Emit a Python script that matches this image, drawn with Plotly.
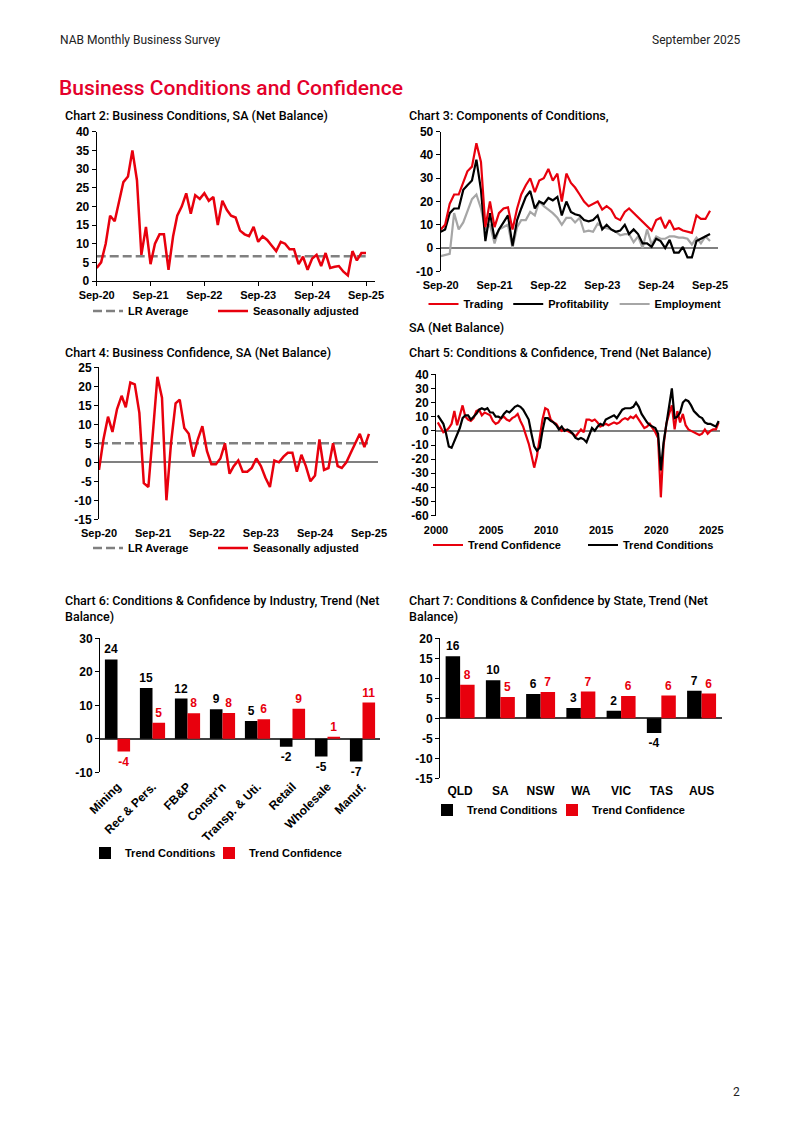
import pandas as pd
import plotly.graph_objects as go

W, H = 800, 1130
OFF = 8  # the page body adds an 8px margin around the figure
RED = '#e8000d'
BLACK = '#000000'
GREY = '#a6a6a6'
DGREY = '#808080'
AX_FONT = dict(family='Liberation Sans, Arial, sans-serif', size=11, color='black', weight='bold')
Y_FONT = dict(AX_FONT, size=12)
TITLE_FONT = dict(family='Roboto, Noto Sans, sans-serif', size=12.5, color='black', weight=500)

# Chart 2: Business Conditions, SA (monthly, Sep-20 .. Sep-25)
conditions_sa = [3.5, 5, 10, 17.5, 16, 22, 26.5, 28, 35, 27, 7, 14.5,
                 4.5, 10, 12.5, 12.5, 3, 12, 17.5, 20, 23.5, 18, 23, 22,
                 23.5, 21.5, 22.5, 15, 21.5, 19, 17.5, 17, 13.5, 12.5, 12, 14.5,
                 10.5, 12, 11, 9.5, 8, 10.5, 10, 8.5, 8.5, 4.5, 6.5, 3,
                 6, 7, 4, 7.5, 3.5, 3.8, 4, 2.5, 1.5, 8, 5.5, 7.5,
                 7.5]
conditions_lr_avg = 6.6

# Chart 3: Components of Conditions, SA
trading = [8, 10, 19, 23, 23, 28, 33, 35, 45, 37, 9, 20,
           9, 15, 17, 17.5, 8, 17, 23, 27, 30, 24, 29, 30,
           34, 29, 32, 20, 32, 28, 26, 23, 20, 18, 19, 20,
           16.5, 18, 16.5, 13, 12, 15.5, 17, 15, 13, 11, 9.5, 7.5,
           12, 13, 8.5, 12, 8, 8.5, 7.5, 7, 6.5, 14, 12.5, 12.5,
           16]
profitability = [7, 8, 15, 17, 17, 25, 27, 29, 38, 25, 3, 15,
                 4, 8, 11, 14, 1, 12, 17, 22, 24.5, 17, 20, 19,
                 21.5, 20.5, 22, 14, 20, 15.5, 14.5, 14, 12, 11.5, 12, 14,
                 8, 10, 8, 7, 7.5, 10, 6, 8, 6, 2, 2, 0.5,
                 4, 3, 0, 3.5, -2, -2, 0.5, -4, -4, 3, 4, 5,
                 6]
employment = [-3.5, -3, -2.5, 15, 8, 11, 16, 21, 23, 17, 8, 10,
              2, 8, 9, 10, 0, 9, 12, 12, 15.5, 14, 20, 18,
              16.5, 15, 13, 10, 13, 13, 11, 13, 7, 7.5, 7, 10.5,
              9, 8.5, 8, 7, 5.5, 6, 6, 2.5, 5, 0, 8, 1.5,
              5, 4, 4, 5, 5, 4.5, 4.5, 4, 1.5, 4.5, 2, 5,
              3]

# Chart 4: Business Confidence, SA
confidence_sa = [-2, 6, 12, 8, 14, 17.5, 14.5, 21, 20.5, 13, -5.5, -6.5,
                 8, 22.5, 17, -10, 5, 15.5, 16.5, 9, 7.5, 1.5, 6, 9.5,
                 3, -0.5, -0.5, 1, 5, -3, -1, 0.5, -2.5, -2.5, -1.5, 1,
                 -1, -4, -6.5, 0.5, 0, 1.5, 2.5, 2.5, -2.5, 2, -1, -5,
                 -3.5, 6, -2, -1.5, 5, -1, -1.5, 0, 2.5, 5, 7.5, 4,
                 7.5]
confidence_lr_avg = 5.0

# Chart 5: Conditions & Confidence, Trend (quarterly, Mar-00 .. Sep-25)
trend_conditions = [11, 8, 5, -2, -11, -12, -7, -3, 2, 9, 11, 11,
                    8, 10, 12, 15, 16, 15, 16, 13, 13, 10, 10, 9,
                    12, 14, 13, 15, 17, 18, 17, 15, 12, 8, -2, -11,
                    -14, -12, 0, 9, 9, 7, 6, 4, 1, 3, 0, 1,
                    0, -2, -5, -6, -5, -6, -8, -3, 2, 0, 3, 5,
                    4, 8, 9, 10, 11, 9, 12, 15, 16, 16, 16, 17,
                    20, 17, 12, 9, 6, 4, 3, 2, -2, -28, -8, 5,
                    18, 30, 9, 10, 13, 20, 22, 21, 18, 14, 12, 10,
                    9, 6, 5, 5, 4, 3, 7]
trend_confidence = [6, 2, -1, 0, 2, 5, 14, 4, 12, 18, 10, 8,
                    7, 9, 14, 15, 11, 13, 12, 11, 7, 5, 6, 9,
                    10, 8, 7, 9, 10, 12, 7, 3, -3, -9, -17, -26,
                    -18, -5, 8, 16, 15, 8, 6, 5, 2, 0, 1, 0,
                    -1, -2, -4, -1, 1, -1, 8, 8, 7, 8, 6, 3,
                    4, 5, 4, 5, 6, 5, 6, 8, 9, 8, 10, 9,
                    11, 8, 5, 2, 3, 5, 2, -1, -5, -47, -10, 5,
                    12, 18, 1, 14, 6, 12, 4, 1, 0, -1, -2, -3,
                    -2, 1, -2, 0, 1, 1, 6]

# Chart 6: by Industry, Trend
industries = ['Mining', 'Rec & Pers.', 'FB&P', "Constr'n", 'Transp. & Uti.',
              'Retail', 'Wholesale', 'Manuf.']
ind_conditions = [23.7, 15.2, 12, 8.8, 5.3, -2.4, -5.3, -6.8]
ind_confidence = [-3.8, 4.8, 7.6, 7.7, 5.8, 9, 0.6, 10.8]

# Chart 7: by State, Trend
states = ['QLD', 'SA', 'NSW', 'WA', 'VIC', 'TAS', 'AUS']
state_conditions = [15.5, 9.5, 6.1, 2.55, 1.9, -3.7, 6.9]
state_confidence = [8.4, 5.3, 6.6, 6.7, 5.6, 5.7, 6.2]

months = pd.date_range('2020-09-01', periods=len(conditions_sa), freq='MS')
quarters = pd.date_range('2000-03-01', periods=len(trend_conditions), freq='3MS')


def dom_x(left, right):
    return [(left - OFF) / W, (right - OFF) / W]


def dom_y(top, bottom):
    return [1 - (bottom - OFF) / H, 1 - (top - OFF) / H]


def zero_pos(top, bottom, lo, hi):
    # paper y of the value 0 on an axis spanning [lo, hi] between top and bottom pixels
    y0 = top + (hi / (hi - lo)) * (bottom - top)
    return 1 - (y0 - OFF) / H


def legend_at(x, cy, anchor='left'):
    return dict(orientation='h', x=(x - OFF) / W, y=1 - (cy - OFF) / H, xanchor=anchor,
                yanchor='middle', font=AX_FONT, bgcolor='rgba(0,0,0,0)', itemwidth=30,
                traceorder='normal', visible=True)


def y_axis(n, top, bottom, lo, hi, step, zero=None):
    ticks = list(range(lo, hi + 1, step))
    ax = dict(domain=dom_y(top, bottom), range=[lo, hi], anchor=f'x{n}',
              tickvals=ticks, ticktext=[str(t) for t in ticks],
              showline=True, linecolor='black', linewidth=1, ticks='outside', ticklen=4,
              tickcolor='black', showgrid=False, tickfont=Y_FONT, zeroline=False,
              automargin=False)
    if zero:
        ax.update(zeroline=True, zerolinecolor=zero, zerolinewidth=1.5)
    return ax


def x_date_axis(n, left, right, rng, line):
    return dict(domain=dom_x(left, right), range=rng, anchor=f'y{n}', type='date',
                tick0='2020-09-01', dtick='M12', tickformat='%b-%y',
                showline=line, linecolor='black', ticks='outside' if line else '',
                ticklen=4, tickcolor='black', showgrid=False, tickfont=AX_FONT, zeroline=False,
                ticklabelstandoff=0 if line else 6, automargin=False)


def zero_ticks(base, left, right, ypos, color, **kw):
    # tick marks sitting on the zero line of a chart (no labels)
    ax = dict(overlaying=base, domain=dom_x(left, right), anchor='free', position=ypos,
              showticklabels=False, ticks='outside', ticklen=4, tickcolor=color,
              showline=False, showgrid=False, zeroline=False, automargin=False)
    ax.update(kw)
    return ax


fig = go.Figure()

# Chart 2
fig.add_trace(go.Scatter(x=months, y=[conditions_lr_avg] * len(months), name='LR Average',
                         mode='lines', line=dict(color=DGREY, width=2.5, dash='9px,4px'),
                         xaxis='x', yaxis='y', legend='legend', showlegend=True))
fig.add_trace(go.Scatter(x=months, y=conditions_sa, name='Seasonally adjusted', mode='lines',
                         line=dict(color=RED, width=2.5), xaxis='x', yaxis='y', legend='legend7'))

# Chart 3
fig.add_trace(go.Scatter(x=months, y=employment, name='Employment', mode='lines', legendrank=3,
                         line=dict(color=GREY, width=2.2), xaxis='x2', yaxis='y2', legend='legend2'))
fig.add_trace(go.Scatter(x=months, y=profitability, name='Profitability', mode='lines', legendrank=2,
                         line=dict(color=BLACK, width=2.2), xaxis='x2', yaxis='y2', legend='legend2'))
fig.add_trace(go.Scatter(x=months, y=trading, name='Trading', mode='lines', legendrank=1,
                         line=dict(color=RED, width=2.2), xaxis='x2', yaxis='y2', legend='legend2'))

# Chart 4
fig.add_trace(go.Scatter(x=months, y=[confidence_lr_avg] * len(months), name='LR Average',
                         mode='lines', line=dict(color=DGREY, width=2.5, dash='9px,4px'),
                         xaxis='x3', yaxis='y3', legend='legend3'))
fig.add_trace(go.Scatter(x=months, y=confidence_sa, name='Seasonally adjusted', mode='lines',
                         line=dict(color=RED, width=2.5), xaxis='x3', yaxis='y3', legend='legend8'))

# Chart 5
fig.add_trace(go.Scatter(x=quarters, y=trend_confidence, name='Trend Confidence', mode='lines',
                         line=dict(color=RED, width=2.2), xaxis='x4', yaxis='y4', legend='legend4'))
fig.add_trace(go.Scatter(x=quarters, y=trend_conditions, name='Trend Conditions', mode='lines',
                         line=dict(color=BLACK, width=2.2), xaxis='x4', yaxis='y4', legend='legend9'))

# Chart 6 and 7 bars
LABEL_FONT = dict(family='Liberation Sans, Arial, sans-serif', size=12, weight='bold')
for cats, cond, conf, n, leg2 in [(industries, ind_conditions, ind_confidence, 5, 10),
                                  (states, state_conditions, state_confidence, 6, 11)]:
    fig.add_trace(go.Bar(x=cats, y=cond, name='Trend Conditions', marker_color=BLACK,
                         text=[f'{v:.0f}' for v in cond], textposition='outside',
                         textfont=dict(LABEL_FONT, color=BLACK), constraintext='none',
                         cliponaxis=False, offsetgroup='a',
                         xaxis=f'x{n}', yaxis=f'y{n}', legend=f'legend{n}'))
    fig.add_trace(go.Bar(x=cats, y=conf, name='Trend Confidence', marker_color=RED,
                         text=[f'{v:.0f}' for v in conf], textposition='outside',
                         textfont=dict(LABEL_FONT, color=RED), constraintext='none',
                         cliponaxis=False, offsetgroup='b',
                         xaxis=f'x{n}', yaxis=f'y{n}', legend=f'legend{leg2}'))

fig.update_layout(
    template='none', showlegend=True,
    width=W, height=H, margin=dict(l=0, r=0, t=0, b=0, autoexpand=False),
    paper_bgcolor='white', plot_bgcolor='white',
    barmode='group', bargap=0.28, bargroupgap=0,
    xaxis=x_date_axis('', 96.7, 375, ['2020-09-01', '2025-11-01'], True),
    yaxis=y_axis('', 131.7, 281, 0, 40, 5),
    xaxis2=x_date_axis(2, 440.7, 718, ['2020-09-01', '2025-10-25'], False),
    yaxis2=y_axis(2, 131.7, 271.3, -10, 50, 10, zero=DGREY),
    xaxis3=x_date_axis(3, 99, 378, ['2020-09-01', '2025-11-01'], False),
    yaxis3=y_axis(3, 367.3, 519.3, -15, 25, 5, zero=DGREY),
    xaxis4=dict(domain=dom_x(436, 720), range=['2000-01-01', '2025-10-15'], anchor='y4',
                type='date', tick0='2000-01-01', dtick='M60', tickformat='%Y',
                ticklabelstandoff=6, automargin=False,
                showline=False, showgrid=False, tickfont=AX_FONT, zeroline=False),
    yaxis4=y_axis(4, 374.3, 515.7, -60, 40, 10, zero=DGREY),
    xaxis5=dict(domain=dom_x(100, 380), anchor='y5', showline=False, showgrid=False,
                tickfont=dict(AX_FONT, size=12), tickangle=-45, zeroline=False,
                ticklabelstandoff=4, automargin=False),
    yaxis5=y_axis(5, 638.3, 772.3, -10, 30, 10, zero='#404040'),
    xaxis6=dict(domain=dom_x(440, 721.7), anchor='y6', showline=False, showgrid=False,
                tickfont=dict(AX_FONT, size=12), zeroline=False, ticklabelstandoff=4,
                automargin=False),
    yaxis6=y_axis(6, 638.3, 778.3, -15, 20, 5, zero='#404040'),
    xaxis7=zero_ticks('x2', 440.7, 718, zero_pos(131.7, 271.3, -10, 50), DGREY, type='date',
                      range=['2020-09-01', '2025-10-25'], tick0='2020-09-01', dtick='M12'),
    xaxis8=zero_ticks('x3', 99, 378, zero_pos(367.3, 519.3, -15, 25), DGREY, type='date',
                      range=['2020-09-01', '2025-11-01'], tick0='2020-09-01', dtick='M12'),
    xaxis9=zero_ticks('x4', 436, 720, zero_pos(374.3, 515.7, -60, 40), DGREY, type='date',
                      range=['2000-01-01', '2025-10-15'], tick0='2000-01-01', dtick='M60'),
    xaxis10=zero_ticks('x5', 100, 380, zero_pos(638.3, 772.3, -10, 30), '#404040',
                       type='linear', range=[-0.5, len(industries) - 0.5], tick0=-0.5, dtick=1),
    xaxis11=zero_ticks('x6', 440, 721.7, zero_pos(638.3, 778.3, -15, 20), '#404040',
                       type='linear', range=[-0.5, len(states) - 0.5], tick0=-0.5, dtick=1),
    legend=legend_at(88, 311),
    legend7=legend_at(213, 311),
    legend2=legend_at(575, 304, anchor='center'),
    legend3=legend_at(88, 548),
    legend8=legend_at(213, 548),
    legend4=legend_at(428, 545),
    legend9=legend_at(583, 545),
    legend5=legend_at(85, 853),
    legend10=legend_at(209, 853),
    legend6=legend_at(427, 810),
    legend11=legend_at(552, 810),
)
fig.layout.xaxis.anchor = 'y'
fig.layout.yaxis.anchor = 'x'


def note(text, x, y, font, xanchor='left'):
    fig.add_annotation(text=text, x=(x - OFF) / W, y=1 - (y - OFF) / H, xref='paper', yref='paper',
                       xanchor=xanchor, yanchor='middle', showarrow=False, align='left', font=font)


HEAD_FONT = dict(family='Roboto, Noto Sans, sans-serif', size=12, color='#222222')
note('NAB Monthly Business Survey', 58, 40, HEAD_FONT)
note('September 2025', 742, 40, HEAD_FONT, xanchor='right')
note('Business Conditions and Confidence', 57, 88,
     dict(family='Roboto, Noto Sans, sans-serif', size=21, color='#e4002b', weight=500))
note('Chart 2: Business Conditions, SA (Net Balance)', 63, 116, TITLE_FONT)
note('Chart 3: Components of Conditions,', 407, 116, TITLE_FONT)
note('SA (Net Balance)', 407, 327, TITLE_FONT)
note('Chart 4: Business Confidence, SA (Net Balance)', 63, 353, TITLE_FONT)
note('Chart 5: Conditions &amp; Confidence, Trend (Net Balance)', 407, 353, TITLE_FONT)
note('Chart 6: Conditions &amp; Confidence by Industry, Trend (Net<br>Balance)', 63, 608, TITLE_FONT)
note('Chart 7: Conditions &amp; Confidence by State, Trend (Net<br>Balance)', 407, 608, TITLE_FONT)
note('2', 742, 1092, HEAD_FONT, xanchor='right')

fig.write_html("out.html")
